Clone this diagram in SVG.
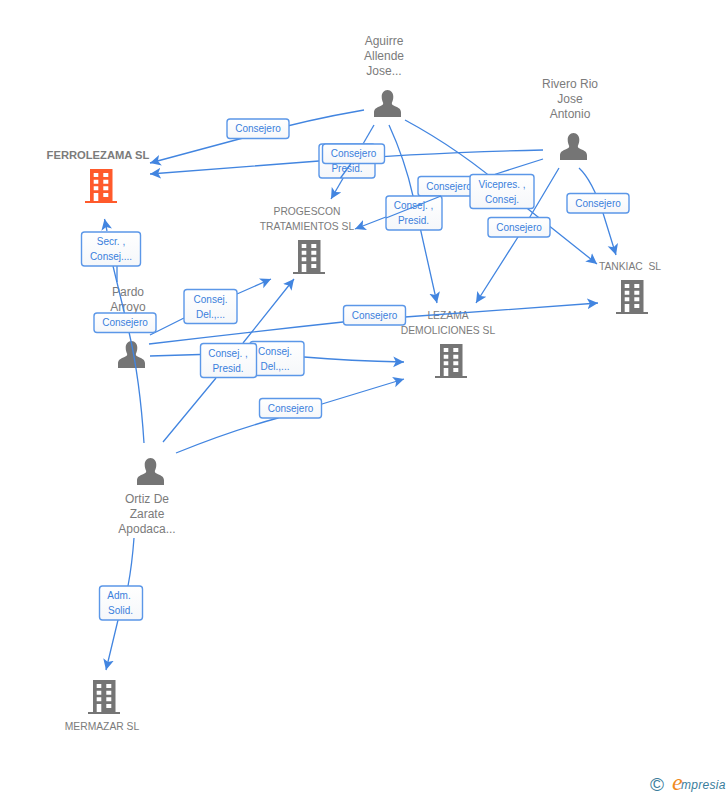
<svg xmlns="http://www.w3.org/2000/svg" width="728" height="795" viewBox="0 0 728 795">
<style>
text{font-family:"Liberation Sans",Arial,sans-serif}
.n{font-size:12px;fill:#7b7b7b;text-anchor:middle}
.c{font-size:10.3px;fill:#7b7b7b;text-anchor:middle}
.b{font-size:11.200px;font-weight:bold}
.e{fill:none;stroke:#4285e0;stroke-width:1.3;stroke-linecap:butt}
.a{marker-end:url(#arr)}
.box{fill:url(#g);stroke:#5b97e8;stroke-width:1.4}
.l{font-size:10px;fill:#3a7fdc;text-anchor:middle}
.ic{fill:#757575}
.or{fill:#ff5a2b}
.w{fill:#fff}
</style>
<defs>
<linearGradient id="g" x1="0" y1="0" x2="0" y2="1"><stop offset="0" stop-color="#ffffff"/><stop offset="1" stop-color="#f5f7fa"/></linearGradient>
<marker id="arr" markerUnits="userSpaceOnUse" markerWidth="12" markerHeight="12" refX="9" refY="5" orient="auto" viewBox="0 0 10 10"><path d="M0,0.5 L9,5 L0,9.5 L2.2,5 Z" fill="#4285e0"/></marker>
<g id="bld">
<path d="M5,0H27.5V32H32V34H0V32H5Z"/>
<path class="w" d="M8.7,4H13.3V8H8.7ZM18.3,4H23.3V8H18.3ZM8.7,10.7H13.3V14.7H8.7ZM18.3,10.7H23.3V14.7H18.3ZM8.7,17.3H13.3V21.3H8.7ZM18.3,17.3H23.3V21.3H18.3ZM8.7,24H13.3V32H8.7ZM18.3,24H23.3V28H18.3Z"/>
</g>
<g id="per">
<path d="M13.5,0C17,0 19.300,3 19.300,6.700C19.300,9.500 18.500,11.300 17.800,13C17.800,14.800 19,15.400 21,16.200C24.500,17.500 27,19 27,22.500V27H0V22.500C0,19 2.500,17.500 6,16.200C8,15.400 9.200,14.800 9.200,13C8.500,11.300 7.700,9.500 7.700,6.700C7.700,3 10,0 13.500,0Z"/>
</g>
</defs>

<g id="node-ferrolezama">
<text class="c b" x="98" y="159">FERROLEZAMA SL</text>
<use href="#bld" x="85" y="169" class="or"/>
</g>
<g id="node-progescon">
<text class="c" x="307" y="215">PROGESCON</text>
<text class="c" x="307" y="230">TRATAMIENTOS SL</text>
<use href="#bld" x="293" y="240" class="ic"/>
</g>
<g id="node-tankiac">
<text class="c" x="630" y="270" xml:space="preserve">TANKIAC  SL</text>
<use href="#bld" x="616" y="280" class="ic"/>
</g>
<g id="node-lezama">
<text class="c" x="448" y="319">LEZAMA</text>
<text class="c" x="448" y="334">DEMOLICIONES SL</text>
<use href="#bld" x="435" y="344" class="ic"/>
</g>
<g id="node-mermazar">
<text class="c" x="102" y="730">MERMAZAR SL</text>
<use href="#bld" x="88" y="680" class="ic"/>
</g>
<g id="node-aguirre">
<text class="n" x="384" y="45">Aguirre</text>
<text class="n" x="384" y="60">Allende</text>
<text class="n" x="384" y="75">Jose...</text>
<use href="#per" x="374" y="90" class="ic"/>
</g>
<g id="node-rivero">
<text class="n" x="570" y="88">Rivero Rio</text>
<text class="n" x="570" y="103">Jose</text>
<text class="n" x="570" y="118">Antonio</text>
<use href="#per" x="560" y="133" class="ic"/>
</g>
<g id="node-pardo">
<text class="n" x="128" y="296">Pardo</text>
<text class="n" x="128" y="311">Arroyo</text>
<use href="#per" x="118" y="341" class="ic"/>
</g>
<g id="node-ortiz">
<text class="n" x="147" y="503">Ortiz De</text>
<text class="n" x="147" y="518">Zarate</text>
<text class="n" x="147" y="533">Apodaca...</text>
<use href="#per" x="137" y="458" class="ic"/>
</g>

<g id="connectors">
<path class="e a" d="M364,110 Q300,121 243,138 L150,163"/>
<path class="e a" d="M543,150 Q420,153 319,161 L150,174"/>
<path class="e a" d="M374,125 L331,199"/>
<path class="e a" d="M389,125 Q405,160 413,196 L437,303"/>
<path class="e a" d="M405,120 Q470,155 528,209 L597,264"/>
<path class="e a" d="M543,159 L496,174 L440,196 L355,229"/>
<path class="e a" d="M559,168 Q540,200 518,237 L476,303"/>
<path class="e a" d="M579,168 Q592,180 603,213 L616,255"/>
<path class="e" d="M144,443 Q140,380 129,332 L113,266"/>
<path class="e" d="M117,266 L117,282"/>
<path class="e a" d="M107,231 L104.500,219"/>
<path class="e a" d="M150,335 L184,318 M237,294 L271,279"/>
<path class="e a" d="M163,442 L216,378 M243,343 L294,279"/>
<path class="e a" d="M149,344 Q250,332 343,322 L405,317 L598,303"/>
<path class="e a" d="M150,356 L200,354.500 M304,357 Q350,361 404,362"/>
<path class="e a" d="M176,453 Q230,431 278,418 L322,404 L404,379"/>
<path class="e a" d="M134,538 Q132,565 128,586 L118,620 L106,670"/>
</g>

<g id="edge-labels">
<g><rect class="box" x="227" y="119" width="62" height="19.500" rx="3"/><text class="l" x="258" y="132">Consejero</text></g>
<g><rect class="box" x="319" y="144" width="56" height="34" rx="3"/><text class="l" x="347" y="172">Presid.</text></g>
<g><rect class="box" x="322.500" y="144" width="62" height="19.500" rx="3"/><text class="l" x="353.500" y="157">Consejero</text></g>
<g><rect class="box" x="418" y="176.500" width="62" height="19.500" rx="3"/><text class="l" x="449" y="190">Consejero</text></g>
<g><rect class="box" x="470" y="174.500" width="64" height="34" rx="3"/><text class="l" x="502" y="188">Vicepres. ,</text><text class="l" x="502" y="203">Consej.</text></g>
<g><rect class="box" x="386" y="196" width="56" height="34" rx="3"/><text class="l" x="413.500" y="209">Consej. ,</text><text class="l" x="413.500" y="224">Presid.</text></g>
<g><rect class="box" x="488" y="217.500" width="62" height="19.500" rx="3"/><text class="l" x="519" y="231">Consejero</text></g>
<g><rect class="box" x="567" y="193.500" width="62" height="19.500" rx="3"/><text class="l" x="598" y="207">Consejero</text></g>
<g><rect class="box" x="343.500" y="305.500" width="62" height="19.500" rx="3"/><text class="l" x="374.500" y="319">Consejero</text></g>
<g><rect class="box" x="81.500" y="232" width="59" height="34" rx="3"/><text class="l" x="111" y="245">Secr. ,</text><text class="l" x="111" y="260">Consej....</text></g>
<g><rect class="box" x="94" y="313" width="62" height="19.500" rx="3"/><text class="l" x="125" y="326">Consejero</text></g>
<g><rect class="box" x="184" y="289.500" width="53" height="34" rx="3"/><text class="l" x="210.500" y="303">Consej.</text><text class="l" x="210.500" y="318">Del.,...</text></g>
<g><rect class="box" x="250" y="341.500" width="54" height="34" rx="3"/><text class="l" x="275" y="355">Consej.</text><text class="l" x="275" y="370">Del.,...</text></g>
<g><rect class="box" x="200.500" y="343.500" width="56" height="34" rx="3"/><text class="l" x="228" y="357">Consej. ,</text><text class="l" x="228" y="372">Presid.</text></g>
<g><rect class="box" x="259.500" y="398.500" width="62" height="19.500" rx="3"/><text class="l" x="290.500" y="412">Consejero</text></g>
<g><rect class="box" x="99.500" y="586" width="43" height="34" rx="3"/><text class="l" x="119" y="599">Adm.</text><text class="l" x="120.500" y="614">Solid.</text></g>
</g>

<g id="connectors-over">
<path class="e" d="M351,163.500 L340.500,178"/>
<path class="e" d="M441,196 L386,218"/>
</g>

<g id="logo">
<text x="650" y="791" font-size="19" fill="#3a7d9c">©</text>
<text x="672" y="790" font-size="24" font-style="italic" fill="#f08a1d" style="font-family:'Liberation Serif',serif">e</text>
<text x="681" y="789" font-size="12" font-style="italic" fill="#3a7d9c" letter-spacing=".3">mpresia</text>
</g>
</svg>
